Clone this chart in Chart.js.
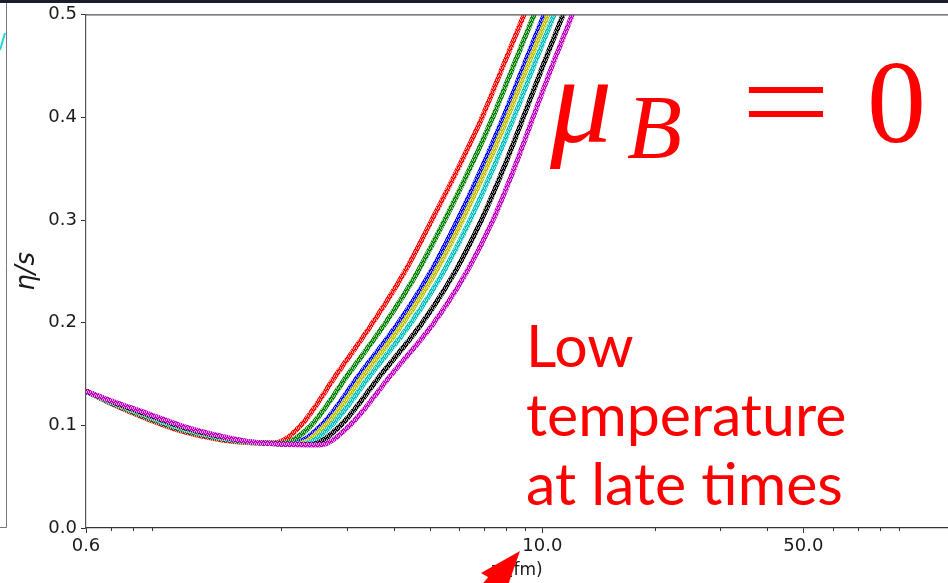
<!DOCTYPE html>
<html lang="en">
<head>
<meta charset="UTF-8">
<title>eta/s vs tau</title>
<script src="https://cdn.jsdelivr.net/npm/chart.js"></script>
<style>
    html, body {
        margin: 0;
        padding: 0;
        background: #fff;
        overflow: hidden;
    }
    #wrap {
        position: relative;
        width: 948px;
        height: 583px;
    }
</style>
</head>
<body>
<div id="wrap"><canvas id="etaChart" width="948" height="583"></canvas></div>
<script>
// tau (fm) and eta/s, one pair of arrays per band
const tauRed     = [0.6, 0.707, 0.871, 1.068, 1.31, 1.61, 1.92, 2.255, 2.817, 3.517, 4.285, 5.063, 5.944, 6.895, 7.850, 8.934, 10.17];
const etaRed     = [0.1333, 0.1205, 0.1066, 0.0950, 0.0875, 0.0834, 0.0830, 0.10, 0.15, 0.20, 0.25, 0.30, 0.35, 0.40, 0.45, 0.50, 0.55];
const tauGreen   = [0.6, 0.707, 0.871, 1.068, 1.31, 1.61, 2.018, 2.404, 3.025, 3.807, 4.644, 5.479, 6.394, 7.365, 8.365, 9.504, 10.80];
const etaGreen   = [0.1333, 0.1210, 0.1076, 0.0960, 0.0883, 0.0836, 0.0826, 0.10, 0.15, 0.20, 0.25, 0.30, 0.35, 0.40, 0.45, 0.50, 0.55];
const tauBlue    = [0.6, 0.707, 0.871, 1.068, 1.31, 1.61, 2.134, 2.561, 3.249, 4.121, 5.033, 5.931, 6.873, 7.868, 8.913, 10.11, 11.46];
const etaBlue    = [0.1333, 0.1216, 0.1088, 0.0971, 0.0891, 0.0839, 0.0822, 0.10, 0.15, 0.20, 0.25, 0.30, 0.35, 0.40, 0.45, 0.50, 0.55];
const tauYellow  = [0.6, 0.707, 0.871, 1.068, 1.31, 1.61, 1.96, 2.200, 2.624, 3.338, 4.246, 5.190, 6.113, 7.067, 8.070, 9.131, 10.36, 11.72];
const etaYellow  = [0.1333, 0.1219, 0.1093, 0.0976, 0.0895, 0.0840, 0.0822, 0.0818, 0.10, 0.15, 0.20, 0.25, 0.30, 0.35, 0.40, 0.45, 0.50, 0.55];
const tauCyan    = [0.6, 0.707, 0.871, 1.068, 1.31, 1.61, 1.96, 2.284, 2.725, 3.483, 4.450, 5.444, 6.407, 7.379, 8.395, 9.480, 10.75, 12.15];
const etaCyan    = [0.1333, 0.1223, 0.1100, 0.0983, 0.0900, 0.0842, 0.0821, 0.0816, 0.10, 0.15, 0.20, 0.25, 0.30, 0.35, 0.40, 0.45, 0.50, 0.55];
const tauBlack   = [0.6, 0.707, 0.871, 1.068, 1.31, 1.61, 1.96, 2.399, 2.882, 3.709, 4.771, 5.844, 6.869, 7.868, 8.896, 10.03, 11.36, 12.81];
const etaBlack   = [0.1333, 0.1229, 0.1110, 0.0993, 0.0907, 0.0844, 0.0820, 0.0813, 0.10, 0.15, 0.20, 0.25, 0.30, 0.35, 0.40, 0.45, 0.50, 0.55];
const tauMagenta = [0.6, 0.707, 0.871, 1.068, 1.31, 1.61, 1.96, 2.536, 3.052, 3.955, 5.127, 6.284, 7.379, 8.402, 9.445, 10.62, 12.02, 13.51];
const etaMagenta = [0.1333, 0.1235, 0.1120, 0.1003, 0.0914, 0.0846, 0.0819, 0.0809, 0.10, 0.15, 0.20, 0.25, 0.30, 0.35, 0.40, 0.45, 0.50, 0.55];

const xMajorTicks = [0.6, 10, 50];
const xMinorTicks = [0.7, 0.8, 0.9, 2, 3, 4, 5, 6, 7, 8, 9, 20, 30, 40, 60, 70, 80, 90];
const yTicks = [0.0, 0.1, 0.2, 0.3, 0.4, 0.5];

const bands = [
    { tau: tauRed,     eta: etaRed,     color: '#ff0000' },
    { tau: tauGreen,   eta: etaGreen,   color: '#008000' },
    { tau: tauBlue,    eta: etaBlue,    color: '#0000ff' },
    { tau: tauYellow,  eta: etaYellow,  color: '#bfbf00' },
    { tau: tauCyan,    eta: etaCyan,    color: '#00bfbf' },
    { tau: tauBlack,   eta: etaBlack,   color: '#000000' },
    { tau: tauMagenta, eta: etaMagenta, color: '#bf00bf' }
];

// speckled stroke, the bands are drawn from many small markers
const speckle = (color) => {
    const c = document.createElement('canvas');
    c.width = 4;
    c.height = 4;
    const g = c.getContext('2d');
    g.fillStyle = color;
    g.fillRect(0, 0, 4, 4);
    g.fillStyle = 'rgba(255,255,255,0.6)';
    [[0, 0], [2, 0], [1, 1], [3, 2], [0, 3], [2, 3]].forEach(([a, b]) => g.fillRect(a, b, 1, 1));
    return g.createPattern(c, 'repeat');
};

const datasets = bands.map((b, i) => ({
    data: b.tau.map((t, k) => ({ x: t, y: b.eta[k] })),
    borderColor: speckle(b.color),
    borderWidth: 5,
    pointRadius: 0,
    cubicInterpolationMode: 'monotone',
    clip: 0,
    order: bands.length - i
}));

const extras = {
    id: 'extras',
    afterDraw(chart) {
        const ctx = chart.ctx;
        const area = chart.chartArea;
        const xs = chart.scales.x;
        ctx.save();

        // top spine
        ctx.strokeStyle = '#555';
        ctx.lineWidth = 1.2;
        ctx.beginPath();
        ctx.moveTo(area.left, area.top);
        ctx.lineTo(area.right, area.top);
        ctx.stroke();

        // minor ticks on the log axis
        ctx.strokeStyle = '#333';
        ctx.lineWidth = 1;
        xMinorTicks.forEach(v => {
            const px = Math.round(xs.getPixelForValue(v)) + 0.5;
            ctx.beginPath();
            ctx.moveTo(px, area.bottom);
            ctx.lineTo(px, area.bottom + 3);
            ctx.stroke();
        });

        // edge of the neighbouring panel and slide bar
        ctx.strokeStyle = '#777';
        ctx.beginPath();
        ctx.moveTo(6.5, 3);
        ctx.lineTo(6.5, 527.5);
        ctx.lineTo(0, 527.5);
        ctx.stroke();
        ctx.strokeStyle = '#22d8d8';
        ctx.lineWidth = 2;
        ctx.beginPath();
        ctx.moveTo(0, 50);
        ctx.lineTo(5, 33);
        ctx.stroke();
        ctx.fillStyle = '#1b1d2b';
        ctx.fillRect(0, 0, 948, 3);

        // mu_B = 0
        ctx.fillStyle = '#ff0000';
        ctx.textBaseline = 'alphabetic';
        ctx.textAlign = 'left';
        ctx.font = 'italic 124px "Liberation Serif"';
        ctx.fillText('μ', 550, 142);
        ctx.font = 'italic 90px "Liberation Serif"';
        ctx.fillText('B', 627, 158);
        ctx.save();
        ctx.translate(786, 142);
        ctx.scale(1.35, 1);
        ctx.font = '118px "Liberation Serif"';
        ctx.textAlign = 'center';
        ctx.fillText('=', 0, 0);
        ctx.restore();
        ctx.font = '118px "Liberation Serif"';
        ctx.fillText('0', 867, 142);

        // annotation
        ctx.font = '59px Lato';
        ctx.fillText('Low', 526, 367);
        ctx.fillText('temperature', 526, 436);
        ctx.fillText('at late times', 526, 505);

        // arrow
        ctx.beginPath();
        ctx.moveTo(520, 551);
        ctx.lineTo(481, 573);
        ctx.lineTo(507, 588);
        ctx.closePath();
        ctx.fill();
        ctx.strokeStyle = '#ff0000';
        ctx.lineWidth = 13;
        ctx.beginPath();
        ctx.moveTo(496, 578);
        ctx.lineTo(474, 604);
        ctx.stroke();

        ctx.restore();
    }
};

const tickFont = { family: 'DejaVu Sans', size: 18 };

new Chart(document.getElementById('etaChart'), {
    type: 'line',
    data: { datasets },
    options: {
        responsive: false,
        animation: false,
        layout: { padding: { top: 13, left: 0, right: 0, bottom: 0 } },
        plugins: {
            legend: { display: false },
            tooltip: { enabled: false }
        },
        scales: {
            x: {
                type: 'logarithmic',
                min: 0.6,
                max: 122,
                afterFit: (s) => { s.height = 55; },
                afterBuildTicks: (s) => { s.ticks = xMajorTicks.map(v => ({ value: v })); },
                ticks: {
                    callback: (v) => Number(v).toFixed(1),
                    font: tickFont,
                    color: '#1a1a1a',
                    padding: 3,
                    autoSkip: false,
                    maxRotation: 0
                },
                grid: { drawOnChartArea: false, tickLength: 5, tickColor: '#333' },
                border: { color: '#333', width: 1.2 },
                title: {
                    display: true,
                    text: 'τ (fm)',
                    font: { family: 'DejaVu Sans', size: 17 },
                    color: '#1a1a1a',
                    padding: { top: 0, bottom: 2 }
                }
            },
            y: {
                min: 0,
                max: 0.5,
                afterFit: (s) => { s.width = 86; },
                afterBuildTicks: (s) => { s.ticks = yTicks.map(v => ({ value: v })); },
                ticks: {
                    callback: (v) => Number(v).toFixed(1),
                    font: tickFont,
                    color: '#1a1a1a',
                    padding: 4
                },
                grid: { drawOnChartArea: false, tickLength: 5, tickColor: '#333' },
                border: { color: '#555', width: 1.2 },
                title: {
                    display: true,
                    text: 'η/s',
                    font: { family: 'DejaVu Sans', size: 26, style: 'italic' },
                    color: '#1a1a1a',
                    padding: { top: 12, bottom: 0 }
                }
            }
        }
    },
    plugins: [extras]
});
</script>
</body>
</html>
